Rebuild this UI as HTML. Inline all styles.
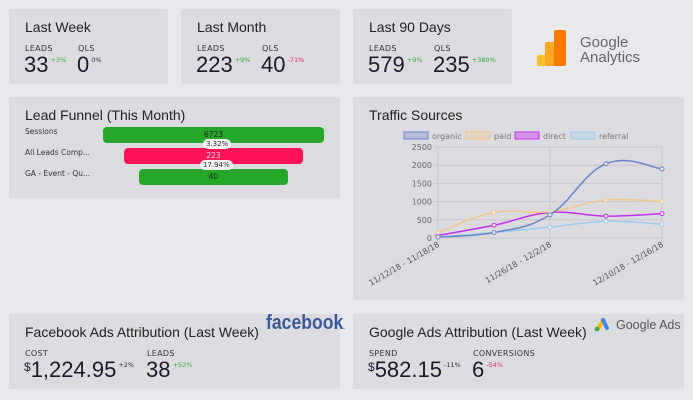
<!DOCTYPE html>
<html><head><meta charset="utf-8"><style>
*{margin:0;padding:0;box-sizing:border-box}
body{width:693px;height:400px;background:#e8e8ee;font-family:"DejaVu Sans","Liberation Sans",sans-serif;color:#222;position:relative;overflow:hidden}
.card{position:absolute;background:#dcdce0;border-radius:2px}
.t{position:absolute;font-size:14px;color:#222;font-family:"Liberation Sans",sans-serif;white-space:nowrap}
.lb{position:absolute;font-size:8px;color:#333;letter-spacing:.3px}
.big{position:absolute;font-size:22px;line-height:24px;color:#1a1a2a;font-family:"Liberation Sans",sans-serif;white-space:nowrap}
.big sup{display:inline-block;font-family:"DejaVu Sans",sans-serif;font-size:6.5px;line-height:8px;vertical-align:top;margin-top:3px;margin-left:2px}
.dl{display:inline-block;font-size:12px;line-height:12px;vertical-align:top;margin-top:3px}
.g{color:#3a3}.r{color:#e0306a}.k{color:#333}
.bar{position:absolute;border-radius:4px;font-size:7.5px;text-align:center;line-height:16px}
.pct{position:absolute;background:#f4f4f6;border-radius:6px;font-size:7px;padding:0 3px;line-height:10px;color:#333}
.fl{position:absolute;font-size:7.5px;color:#333}
</style></head><body>
<div class="card" style="left:9px;top:9px;width:159px;height:75px">
<div class="t" style="left:16px;top:10px">Last Week</div>
<div class="lb" style="left:16px;top:35px">LEADS</div><div class="big" style="left:15px;top:44px">33<sup class="g">+3%</sup></div>
<div class="lb" style="left:69px;top:35px">QLS</div><div class="big" style="left:68px;top:44px">0<sup class="k">0%</sup></div>
</div>
<div class="card" style="left:181px;top:9px;width:159px;height:75px">
<div class="t" style="left:16px;top:10px">Last Month</div>
<div class="lb" style="left:16px;top:35px">LEADS</div><div class="big" style="left:15px;top:44px">223<sup class="g">+9%</sup></div>
<div class="lb" style="left:81px;top:35px">QLS</div><div class="big" style="left:80px;top:44px">40<sup class="r">-71%</sup></div>
</div>
<div class="card" style="left:353px;top:9px;width:159px;height:75px">
<div class="t" style="left:16px;top:10px">Last 90 Days</div>
<div class="lb" style="left:16px;top:35px">LEADS</div><div class="big" style="left:15px;top:44px">579<sup class="g">+9%</sup></div>
<div class="lb" style="left:81px;top:35px">QLS</div><div class="big" style="left:80px;top:44px">235<sup class="g">+380%</sup></div>
</div>
<div style="position:absolute;left:537px;top:30px">
<div style="position:absolute;left:0;top:25px;width:12px;height:11px;background:#fbc02d;border-radius:2px"></div>
<div style="position:absolute;left:8px;top:12px;width:12px;height:24px;background:#f9a825;border-radius:2px"></div>
<div style="position:absolute;left:17px;top:0;width:12px;height:36px;background:#f57c00;border-radius:2px"></div>
<div style="position:absolute;left:43px;top:5px;font-size:15px;color:#666;line-height:15px;font-family:'Liberation Sans',sans-serif">Google<br>Analytics</div>
</div>
<div class="card" style="left:9px;top:97px;width:331px;height:101px">
<div class="t" style="left:16px;top:10px">Lead Funnel (This Month)</div>
<div class="fl" style="left:16px;top:30px">Sessions</div>
<div class="fl" style="left:16px;top:51px">All Leads Comp...</div>
<div class="fl" style="left:16px;top:72px">GA - Event - Qu...</div>
<div class="bar" style="left:94px;top:30px;width:221px;height:16px;background:#25a82a;color:#222">6723</div>
<div class="bar" style="left:115px;top:51px;width:179px;height:16px;background:#ff1458;color:#fde">223</div>
<div class="bar" style="left:130px;top:72px;width:149px;height:16px;background:#25a82a;color:#222">40</div>
<div class="pct" style="left:194px;top:42px">3.32%</div>
<div class="pct" style="left:191px;top:63px">17.94%</div>
</div>
<div class="card" style="left:353px;top:97px;width:331px;height:203px">
<div class="t" style="left:16px;top:10px">Traffic Sources</div>
</div>
<svg id="chart" width="693" height="400" style="position:absolute;left:0;top:0" font-family="DejaVu Sans, Liberation Sans, sans-serif"></svg>
<div class="card" style="left:9px;top:314px;width:331px;height:75px">
<div class="t" style="left:16px;top:10px">Facebook Ads Attribution (Last Week)</div>
<div class="lb" style="left:16px;top:35px">COST</div>
<div class="big" style="left:15px;top:44px"><span class="dl">$</span>1,224.95<sup class="k">+2%</sup></div>
<div class="lb" style="left:138px;top:35px">LEADS</div><div class="big" style="left:137px;top:44px">38<sup class="g">+52%</sup></div>
</div>
<div style="position:absolute;left:266px;top:312px;font-size:20px;font-weight:bold;color:#3b5998;font-family:'Liberation Sans',sans-serif;transform:scaleX(.88);transform-origin:left top;white-space:nowrap">facebook<span style="font-size:6px">.</span></div>
<div class="card" style="left:353px;top:314px;width:331px;height:75px">
<div class="t" style="left:16px;top:10px">Google Ads Attribution (Last Week)</div>
<div class="lb" style="left:16px;top:35px">SPEND</div>
<div class="big" style="left:15px;top:44px"><span class="dl">$</span>582.15<sup class="k">-11%</sup></div>
<div class="lb" style="left:120px;top:35px">CONVERSIONS</div><div class="big" style="left:119px;top:44px">6<sup class="r">-54%</sup></div>
</div>
<div style="position:absolute;left:594px;top:317px">
<svg width="16" height="15"><line x1="4" y1="12" x2="9" y2="3" stroke="#fbbc04" stroke-width="4" stroke-linecap="round"/><line x1="9" y1="3" x2="13" y2="11" stroke="#4285f4" stroke-width="4" stroke-linecap="round"/><circle cx="3" cy="12" r="2.3" fill="#34a853"/></svg>
<span style="position:absolute;left:22px;top:1px;font-size:12.5px;color:#555;white-space:nowrap;font-family:'Liberation Sans',sans-serif">Google Ads</span>
</div>
<script>
const categories=["11/12/18 - 11/18/18","11/19/18 - 11/25/18","11/26/18 - 12/2/18","12/3/18 - 12/9/18","12/10/18 - 12/16/18"];
const organic=[30,150,640,2040,1900];
const paid=[150,700,720,1040,1000];
const direct=[70,350,700,600,670];
const referral=[20,150,300,460,380];
const yTicks=[0,500,1000,1500,2000,2500];
const seriesNames=["organic","paid","direct","referral"];
const svg=document.getElementById('chart');const NS='http://www.w3.org/2000/svg';
const X0=438,X1=662,Y0=238,Y1=147,YMAX=2500;
const xs=i=>X0+(X1-X0)*i/(categories.length-1);
const ys=v=>Y0-(Y0-Y1)*v/YMAX;
function mk(t,a,p){const e=document.createElementNS(NS,t);for(const k in a)e.setAttribute(k,a[k]);(p||svg).appendChild(e);return e;}
yTicks.forEach(v=>{const l=mk('line',{x1:X0-4,x2:X1,y1:ys(v),y2:ys(v),stroke:'#c8c8cc','stroke-width':1});

const t=mk('text',{x:X0-6,y:ys(v)+3,'text-anchor':'end','font-size':8,fill:'#666'});t.textContent=v;
});
categories.forEach((c,i)=>{if(i%2)return;const x=xs(i);
const l=mk('line',{x1:x,x2:x,y1:Y1,y2:Y0+4,stroke:'#c8c8cc'});
const t=mk('text',{x:x+2,y:Y0+8,'text-anchor':'end','font-size':8,fill:'#555',transform:`rotate(-30 ${x+2} ${Y0+8})`});t.textContent=c;
});
const cols=[['#6a86c8','rgba(106,134,200,.35)'],['#f0c68a','rgba(240,198,138,.35)'],['#c030f0','rgba(192,48,240,.4)'],['#9ccbec','rgba(156,203,236,.35)']];
const data=[organic,paid,direct,referral];
function path(vals){const p=vals.map((v,i)=>[xs(i),ys(v)]);let d=`M${p[0][0]},${p[0][1]}`;
for(let i=0;i<p.length-1;i++){const a=p[Math.max(i-1,0)],b=p[i],c=p[i+1],e=p[Math.min(i+2,p.length-1)];const k=0.2;
d+=` C${b[0]+(c[0]-a[0])*k},${b[1]+(c[1]-a[1])*k} ${c[0]-(e[0]-b[0])*k},${c[1]-(e[1]-b[1])*k} ${c[0]},${c[1]}`;}return d;}
[3,2,1,0].forEach(s=>{const pth=mk('path',{d:path(data[s]),fill:'none',stroke:cols[s][0],'stroke-width':1.5});

data[s].forEach((v,i)=>{const c=mk('circle',{cx:xs(i),cy:ys(v),r:2,fill:'#eee',stroke:cols[s][0],'stroke-width':1});
});});
const lx=[404,466,515,571];
seriesNames.forEach((n,i)=>{const g=mk('g',{});
mk('rect',{x:lx[i],y:132,width:24,height:7,fill:cols[i][1],stroke:cols[i][0],'stroke-width':1},g);
const t=mk('text',{x:lx[i]+28,y:139,'font-size':8,fill:'#777'},g);t.textContent=n;});
</script>
</body></html>
